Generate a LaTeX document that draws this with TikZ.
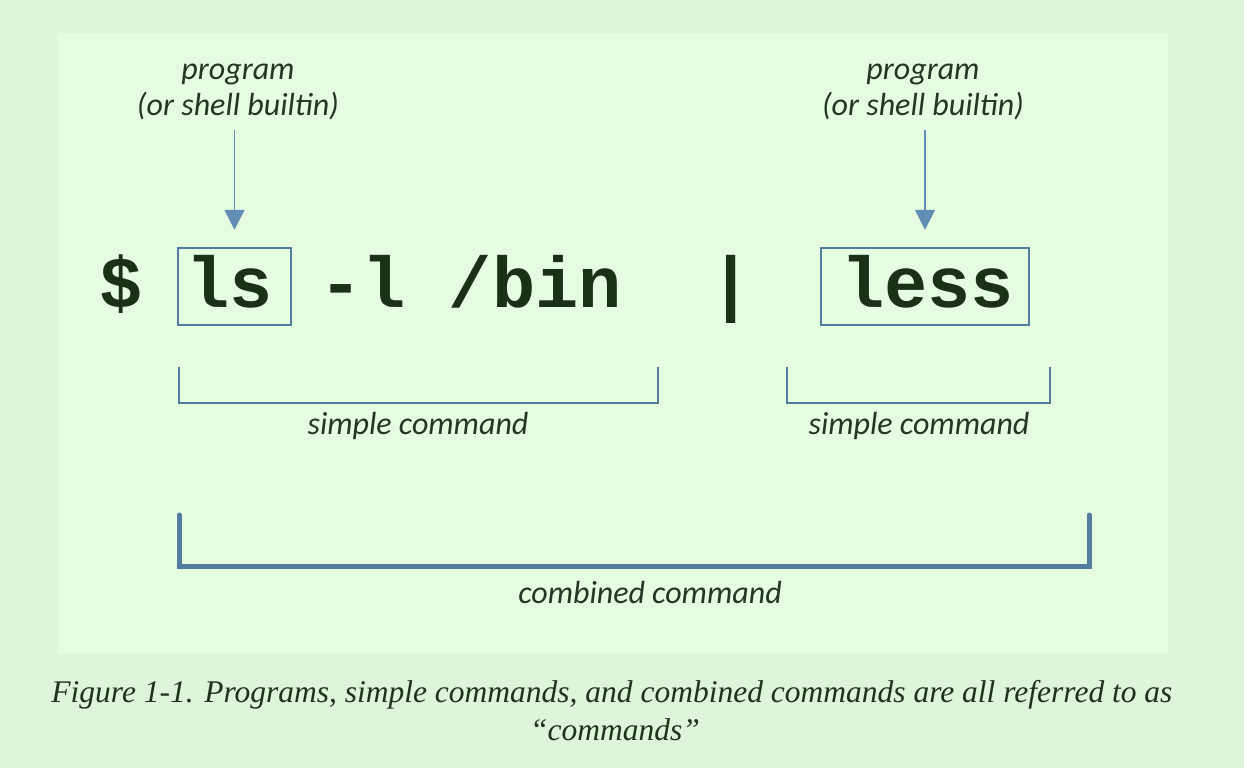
\documentclass[tikz,border=0pt]{standalone}
\usepackage{fontspec}
\setmainfont{Liberation Serif}
\newfontfamily\labelfont{Carlito}
\newfontfamily\codefont{Liberation Mono}
\usetikzlibrary{arrows.meta}
\definecolor{outerbg}{RGB}{223,245,218}
\definecolor{panelbg}{RGB}{229,252,224}
\definecolor{boxblue}{RGB}{84,124,158}
\definecolor{arrblue}{RGB}{98,142,182}
\definecolor{lbltext}{RGB}{36,54,36}
\definecolor{codetext}{RGB}{28,48,25}
\definecolor{captext}{RGB}{28,52,30}
\tikzset{
  lbl/.style={font=\labelfont\itshape\fontsize{32}{36}\selectfont, text=lbltext, align=center, inner sep=0pt},
  code/.style={font=\codefont\bfseries\fontsize{72}{80}\selectfont, text=codetext, inner sep=0pt, anchor=base},
  codebox/.style={draw=boxblue, line width=2.5pt, minimum width=113pt, minimum height=77pt, inner sep=0pt},
  arr/.style={draw=arrblue, line width=1.5pt, -{Triangle[width=20pt,length=20pt]}},
  thinbracket/.style={draw=boxblue, line width=1.8pt},
  thickbracket/.style={draw=boxblue, line width=5pt, line cap=round},
  captionline/.style={font=\itshape\fontsize{31.5}{36}\selectfont, text=captext, inner sep=0pt, anchor=base}
}
\begin{document}
\begin{tikzpicture}[x=1pt,y=-1pt]
\useasboundingbox (0,0) rectangle (1244,768);
\fill[outerbg] (0,0) rectangle (1244,768);
\fill[panelbg] (58,33) rectangle (1168,654);

% code line
\node[code] (dollar) at (121,307) {\$};
\node[codebox] (lsbox) at (234.5,286.5) {};
\node[code] (ls) at (230,307) {ls};
\node[code] (args) at (470.5,307) {-l /bin};
\node[code] (pipe) at (731,307) {|};
\node[codebox, minimum width=208pt] (lessbox) at (925,286.5) {};
\node[code] (less) at (927.5,307) {less};

% program labels
\node[lbl] (prog1) at (238,92) {program\\(or shell builtin)};
\node[lbl] (prog2) at (923,92) {program\\(or shell builtin)};
\draw[arr, shorten <=10pt, shorten >=17pt] (prog1.south -| lsbox.north) -- (lsbox.north);
\draw[arr, shorten <=10pt, shorten >=17pt] (prog2.south -| lessbox.north) -- (lessbox.north);

% simple command brackets
\coordinate (s1a) at (179,367);
\coordinate (s1b) at (658,367);
\draw[thinbracket] (s1a) |- (658,403) -- (s1b);
\node[lbl] (simple1) at (418,426) {simple command};
\coordinate (s2a) at (787,367);
\coordinate (s2b) at (1050,367);
\draw[thinbracket] (s2a) |- (1050,403) -- (s2b);
\node[lbl] (simple2) at (919,426) {simple command};

% combined bracket
\coordinate (c1a) at (179,515);
\coordinate (c1b) at (1089,515);
\draw[thickbracket] (c1a) |- (1089,566) -- (c1b);
\node[lbl] (combined) at (650,592) {combined command};

% caption
\node[captionline] (cap1) at (612,702) {Figure 1-1. Programs, simple commands, and combined commands are all referred to as};
\node[captionline] (cap2) at (615,740) {“commands”};
\end{tikzpicture}
\end{document}
